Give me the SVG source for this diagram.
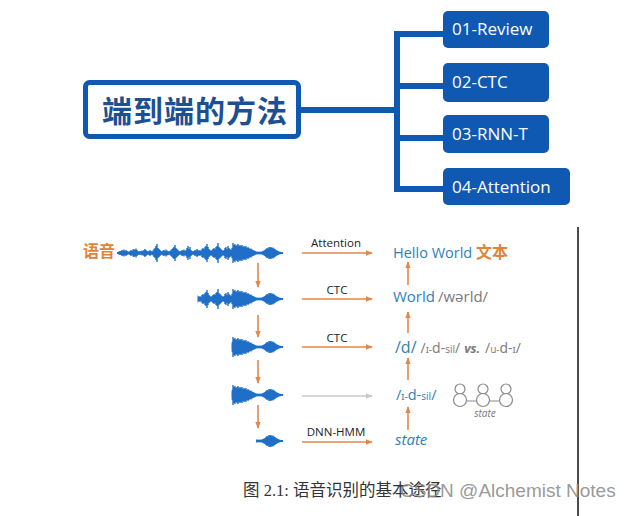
<svg xmlns="http://www.w3.org/2000/svg" xmlns:xlink="http://www.w3.org/1999/xlink" width="629" height="516" viewBox="0 0 629 516">
<style>
.box{fill:#0f59b3;}
.btxt{font-family:"Open Sans","Noto Sans",sans-serif;font-size:17px;fill:#fff;}
.tree{stroke:#0f59b3;stroke-width:6;fill:none;}
.wave{stroke:#1f6fc8;stroke-width:1.4;fill:none;}
.oarr{stroke:#e0894a;stroke-width:1.6;fill:none;marker-end:url(#ah);}
.garr{stroke:#c9c9c9;stroke-width:1.6;fill:none;marker-end:url(#gh);}
.lbl{font-family:"Open Sans","Noto Sans",sans-serif;font-size:11.5px;fill:#222;text-anchor:middle;}
.blue{fill:#2f80ba;}
.gray{fill:#7a7a7a;}
.rt{font-family:"Open Sans","Noto Sans",sans-serif;}
.hmm{stroke:#8a8a8a;stroke-width:1.2;fill:#fff;}
</style>
<defs>
<marker id="ah" viewBox="0 0 10 10" refX="9" refY="5" markerWidth="7" markerHeight="7" markerUnits="userSpaceOnUse" orient="auto"><path d="M0,1L10,5L0,9z" fill="#e0894a"/></marker>
<marker id="gh" viewBox="0 0 10 10" refX="9" refY="5" markerWidth="7" markerHeight="7" markerUnits="userSpaceOnUse" orient="auto"><path d="M0,1L10,5L0,9z" fill="#c9c9c9"/></marker>
<path id="wave" class="wave" d="M118,-1V1M119,-1.5V1.5M120,-2V2M121,-2V2M122,-3V3M123,-2.5V2.5M124,-3.5V3.5M125,-2V2M126,-3V3M127,-2V2M128,-1.5V1.5M129,-1.5V1.5M130,-2V2M131,-3V3M132,-2V2M133,-3.5V3.5M134,-4V4M135,-3V3M136,-4.5V4.5M137,-3V3M138,-2V2M139,-1.5V1.5M140,-2V2M141,-1.5V1.5M142,-2.5V2.5M143,-2V2M144,-3V3M145,-4V4M146,-3V3M147,-2V2M148,-1.5V1.5M149,-2V2M150,-3V3M151,-2V2M152,-1.5V1.5M153,-2.5V2.5M154,-4V4M155,-5V5M156,-7V7M157,-9V9M158,-5V5M159,-4V4M160,-3V3M161,-2V2M162,-1.5V1.5M163,-2.5V2.5M164,-3V3M165,-2V2M166,-3.5V3.5M167,-2.5V2.5M168,-2V2M169,-1.5V1.5M170,-2V2M171,-3V3M172,-4V4M173,-5V5M174,-6V6M175,-8V8M176,-5V5M177,-4V4M178,-3V3M179,-2V2M180,-1.5V1.5M181,-2V2M182,-3V3M183,-2.5V2.5M184,-3.5V3.5M185,-2V2M186,-3V3M187,-5V5M188,-7V7M189,-4V4M190,-6V6M191,-3V3M192,-2V2M193,-1.5V1.5M194,-2V2M195,-3V3M196,-2.5V2.5M197,-4V4M198,-3V3M199,-2V2M200,-3V3M201,-2V2M202,-4V4M203,-5V5M204,-4V4M205,-6V6M206,-7V7M207,-9V9M208,-6V6M209,-4V4M210,-3V3M211,-2V2M212,-3V3M213,-4V4M214,-5V5M215,-4V4M216,-6V6M217,-7V7M218,-10V10M219,-6V6M220,-5V5M221,-4V4M222,-3V3M223,-2V2M224,-3V3M225,-5V5M226,-6V6M227,-4V4M228,-7V7M229,-5V5M230,-4V4M231,-3V3M232,-5V5M233,-10V10M234,-8V8M235,-9V9M236,-7V7M237,-8V8M238,-9V9M239,-7V7M240,-8V8M241,-7V7M242,-8V8M243,-6V6M244,-7V7M245,-6V6M246,-7V7M247,-5V5M248,-6V6M249,-5V5M250,-4V4M251,-4.5V4.5M252,-3.5V3.5M253,-3V3M254,-2.5V2.5M255,-2V2M256,-1.5V1.5M257,-1.5V1.5M258,-1.2V1.2M259,-1.2V1.2M260,-1.5V1.5M261,-1.2V1.2M262,-1.5V1.5M263,-2V2M264,-2.5V2.5M265,-3V3M266,-4V4M267,-5V5M268,-4.5V4.5M269,-6V6M270,-5.5V5.5M271,-6V6M272,-5V5M273,-5.5V5.5M274,-4.5V4.5M275,-4V4M276,-3V3M277,-2.5V2.5M278,-2V2M279,-1.5V1.5M280,-1.2V1.2M281,-1V1M282,-0.8V0.8"/>
<clipPath id="c1" clipPathUnits="userSpaceOnUse"><rect x="110" y="0" width="180" height="516"/></clipPath>
<clipPath id="c2" clipPathUnits="userSpaceOnUse"><rect x="197.5" y="0" width="100" height="516"/></clipPath>
<clipPath id="c3" clipPathUnits="userSpaceOnUse"><rect x="231.5" y="0" width="60" height="516"/></clipPath>
<clipPath id="c5" clipPathUnits="userSpaceOnUse"><rect x="256" y="0" width="40" height="516"/></clipPath>
</defs>
<rect width="629" height="516" fill="#fff"/>

<g id="connectors">
<path class="tree" d="M300,110H397M397,31V192M397,34H445M397,86H445M397,138H445M397,189H445"/>
</g>

<g id="root">
<rect x="85.5" y="82.5" width="213" height="54" rx="4" fill="#fff" stroke="#0f59b3" stroke-width="5"/>
<text x="102" y="122" style="font-family:'Noto Sans CJK SC',sans-serif;font-weight:bold;font-size:30px;fill:#1c4f94;letter-spacing:1px">端到端的方法</text>
</g>
<g id="n01"><rect class="box" x="443" y="11" width="106" height="37" rx="5"/><text class="btxt" x="452" y="35">01-Review</text></g>
<g id="n02"><rect class="box" x="443" y="63" width="106" height="39" rx="5"/><text class="btxt" x="452" y="88">02-CTC</text></g>
<g id="n03"><rect class="box" x="443" y="115" width="106" height="38" rx="5"/><text class="btxt" x="452" y="140">03-RNN-T</text></g>
<g id="n04"><rect class="box" x="443" y="168" width="127" height="37" rx="5"/><text class="btxt" x="452" y="193">04-Attention</text></g>

<g id="speech">
<text x="83" y="257" style="font-family:'Noto Sans CJK SC',sans-serif;font-weight:bold;font-size:16px;fill:#e0843a">语音</text>
<path d="M117,253H283" stroke="#1f6fc8" stroke-width="2"/>
<g clip-path="url(#c1)"><use xlink:href="#wave" y="253"/></g>
<g clip-path="url(#c2)"><use xlink:href="#wave" y="299"/><path d="M198,299H283" stroke="#1f6fc8" stroke-width="2"/></g>
<g clip-path="url(#c3)"><use xlink:href="#wave" y="347"/><path d="M232,347H283" stroke="#1f6fc8" stroke-width="2"/></g>
<g clip-path="url(#c3)"><use xlink:href="#wave" y="395"/><path d="M232,395H283" stroke="#1f6fc8" stroke-width="2"/></g>
<g clip-path="url(#c5)"><use xlink:href="#wave" y="441"/><path d="M256,441H283" stroke="#1f6fc8" stroke-width="2"/></g>
</g>

<g id="arrows">
<path class="oarr" d="M258,263V287"/>
<path class="oarr" d="M258,315V337"/>
<path class="oarr" d="M258,360V383"/>
<path class="oarr" d="M258,405V428"/>
<path class="oarr" d="M408,285V262"/>
<path class="oarr" d="M408,333V312"/>
<path class="oarr" d="M408,380V358"/>
<path class="oarr" d="M408,430V407"/>
<path class="oarr" d="M302,253H372"/>
<path class="oarr" d="M302,299H372"/>
<path class="oarr" d="M302,347H372"/>
<path class="oarr" d="M302,442H372"/>
<path class="garr" d="M302,396H372"/>
</g>

<g id="labels">
<text class="lbl" x="336" y="247">Attention</text>
<text class="lbl" x="337" y="294">CTC</text>
<text class="lbl" x="337" y="342">CTC</text>
<text class="lbl" x="336" y="436">DNN-HMM</text>
</g>

<g id="levels" class="rt">
<text x="393" y="258" font-size="14.5"><tspan class="blue">Hello World </tspan><tspan style="font-family:'Noto Sans CJK SC',sans-serif;font-weight:bold;fill:#e0843a" font-size="16">文本</tspan></text>
<text x="393" y="302" font-size="15"><tspan class="blue">World</tspan><tspan class="gray" dx="3">/wərld/</tspan></text>
<text x="395" y="353" font-size="16"><tspan class="blue">/d/</tspan><tspan class="gray" dx="4" font-size="14">/</tspan><tspan class="gray" font-size="10">ɪ-</tspan><tspan class="gray" font-size="14">d-</tspan><tspan class="gray" font-size="10">sil</tspan><tspan class="gray" font-size="14">/</tspan><tspan class="gray" dx="4" font-size="12.5" font-weight="bold" font-style="italic">vs.</tspan><tspan class="gray" dx="5" font-size="14">/</tspan><tspan class="gray" font-size="10">u-</tspan><tspan class="gray" font-size="14">d-</tspan><tspan class="gray" font-size="10">ɪ</tspan><tspan class="gray" font-size="14">/</tspan></text>
<text x="396" y="400" font-size="14.5" class="blue"><tspan>/</tspan><tspan font-size="10">ɪ-</tspan><tspan>d-</tspan><tspan font-size="10">sil</tspan><tspan>/</tspan></text>
<text x="395" y="445" font-size="15" font-style="italic" class="blue">state</text>
</g>

<g id="hmm">
<circle class="hmm" cx="460" cy="389" r="5"/>
<circle class="hmm" cx="483" cy="389" r="5"/>
<circle class="hmm" cx="506" cy="389" r="5"/>
<path d="M466.5,401H476.5M489.5,401H499.5" stroke="#8a8a8a" stroke-width="1.2"/>
<circle class="hmm" cx="460" cy="400" r="6.5"/>
<circle class="hmm" cx="483" cy="400" r="6.5"/>
<circle class="hmm" cx="506" cy="400" r="6.5"/>
<text x="485" y="417" text-anchor="middle" class="rt gray" font-size="10" font-style="italic">state</text>
</g>

<path d="M578,227V516" stroke="#111" stroke-width="1.5"/>

<text x="243" y="496" style="font-family:'Liberation Serif','Noto Sans CJK SC',serif;font-size:16.5px;fill:#333">图 2.1: 语音识别的基本途径</text>
<text x="400" y="497" style="font-family:'Liberation Sans',sans-serif;font-size:19px;fill:#8c8c8c;fill-opacity:0.9">CSDN @Alchemist Notes</text>
</svg>
